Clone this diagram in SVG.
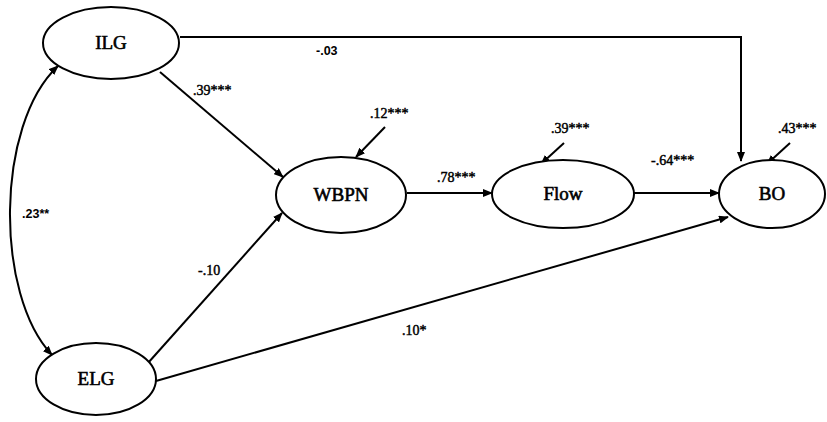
<svg xmlns="http://www.w3.org/2000/svg" width="827" height="422" viewBox="0 0 827 422">
  <style>
    .node ellipse { fill: #fff; stroke: #000; stroke-width: 2; }
    .node text { font-family: "Liberation Serif", "Times New Roman", serif; font-size: 19px; text-anchor: middle; fill: #000; stroke: #000; stroke-width: 0.6; }
    .edge { fill: none; stroke: #000; stroke-width: 2; }
    .lbl { font-family: "Liberation Serif", "Times New Roman", serif; font-size: 14px; fill: #000; stroke: #000; stroke-width: 0.45; }
    .lbl-s { font-family: "Liberation Sans", Arial, sans-serif; font-size: 12.5px; font-weight: bold; fill: #000; }
  </style>
  <defs>
    <marker id="arr" markerWidth="10" markerHeight="8" refX="9" refY="4" orient="auto" markerUnits="userSpaceOnUse">
      <path d="M0,0 L10,4 L0,8 Z" fill="#000"/>
    </marker>
    <marker id="arrStart" markerWidth="10" markerHeight="8" refX="1" refY="4" orient="auto" markerUnits="userSpaceOnUse">
      <path d="M10,0 L0,4 L10,8 Z" fill="#000"/>
    </marker>
  </defs>
  <rect width="827" height="422" fill="#fff"/>

  <g id="connectors">
    <!-- ILG -> BO (routed over the top) -->
    <path class="edge" d="M180,37 H741 V161" marker-end="url(#arr)"/>
    <!-- ILG -> WBPN -->
    <line class="edge" x1="160" y1="72" x2="283" y2="177" marker-end="url(#arr)"/>
    <!-- ELG -> WBPN -->
    <line class="edge" x1="148" y1="363" x2="282" y2="213" marker-end="url(#arr)"/>
    <!-- ELG -> BO -->
    <line class="edge" x1="156" y1="381" x2="728" y2="217" marker-end="url(#arr)"/>
    <!-- WBPN -> Flow -->
    <line class="edge" x1="407" y1="193" x2="492" y2="193" marker-end="url(#arr)"/>
    <!-- Flow -> BO -->
    <line class="edge" x1="634" y1="193" x2="719" y2="193" marker-end="url(#arr)"/>
    <!-- residual arrows -->
    <line class="edge" x1="385" y1="127" x2="356" y2="157" marker-end="url(#arr)"/>
    <line class="edge" x1="564" y1="143" x2="541" y2="164" marker-end="url(#arr)"/>
    <line class="edge" x1="790" y1="143" x2="767" y2="164" marker-end="url(#arr)"/>
    <!-- ILG <-> ELG covariance -->
    <path class="edge" d="M58,66 C-5,125 -5,295 52,355" marker-start="url(#arrStart)" marker-end="url(#arr)"/>
  </g>

  <g id="ILG" class="node">
    <ellipse cx="111" cy="43" rx="68" ry="36"/>
    <text x="111" y="49">ILG</text>
  </g>
  <g id="ELG" class="node">
    <ellipse cx="96" cy="379" rx="60" ry="36"/>
    <text x="96" y="385">ELG</text>
  </g>
  <g id="WBPN" class="node">
    <ellipse cx="341" cy="195" rx="65" ry="38"/>
    <text x="341" y="201">WBPN</text>
  </g>
  <g id="Flow" class="node">
    <ellipse cx="563" cy="194" rx="71" ry="34"/>
    <text x="563" y="200">Flow</text>
  </g>
  <g id="BO" class="node">
    <ellipse cx="772" cy="194" rx="53" ry="34"/>
    <text x="772" y="200">BO</text>
  </g>

  <g id="labels">
    <text class="lbl" x="193" y="95">.39***</text>
    <text class="lbl" x="370" y="118">.12***</text>
    <text class="lbl" x="437" y="182">.78***</text>
    <text class="lbl" x="551" y="133">.39***</text>
    <text class="lbl" x="651" y="165">-.64***</text>
    <text class="lbl" x="778" y="133">.43***</text>
    <text class="lbl" x="198" y="275">-.10</text>
    <text class="lbl" x="402" y="335">.10*</text>
    <text class="lbl-s" x="316" y="55">-.03</text>
    <text class="lbl-s" x="22" y="218">.23**</text>
  </g>
</svg>
